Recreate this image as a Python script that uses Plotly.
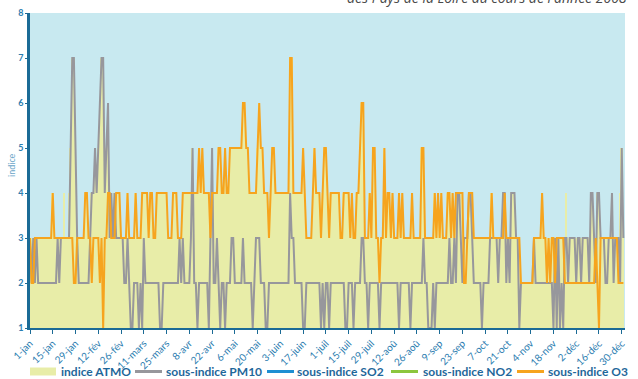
import pandas as pd
import plotly.graph_objects as go

# Daily dates for 2008 (leap year: 366 days)
dates = pd.date_range("2008-01-01", "2008-12-31", freq="D")

# Daily ATMO index
indice_atmo = [
    3, 3, 3, 3, 3, 3, 3, 3, 3, 3,
    3, 3, 3, 3, 4, 3, 3, 3, 3, 3,
    3, 4, 3, 3, 4, 5, 7, 7, 5, 3,
    3, 3, 3, 3, 4, 4, 3, 3, 4, 4,
    5, 4, 5, 6, 7, 7, 4, 5, 6, 4,
    4, 3, 4, 4, 4, 4, 3, 3, 3, 3,
    4, 3, 3, 3, 3, 4, 3, 3, 3, 4,
    4, 4, 4, 3, 4, 4, 3, 3, 4, 4,
    4, 4, 4, 4, 4, 3, 3, 3, 4, 4,
    4, 3, 3, 3, 4, 4, 4, 4, 4, 4,
    5, 4, 4, 4, 5, 4, 5, 4, 4, 4,
    4, 3, 5, 4, 4, 4, 5, 5, 4, 4,
    5, 4, 4, 5, 5, 5, 5, 5, 5, 5,
    5, 6, 6, 5, 5, 4, 4, 4, 4, 4,
    5, 6, 5, 5, 4, 4, 4, 3, 4, 5,
    5, 4, 4, 4, 4, 4, 4, 4, 4, 4,
    7, 7, 4, 4, 4, 4, 4, 4, 5, 4,
    3, 3, 3, 3, 4, 5, 4, 4, 4, 3,
    4, 5, 5, 4, 3, 4, 4, 4, 4, 4,
    4, 3, 3, 4, 4, 4, 4, 3, 4, 3,
    3, 4, 4, 5, 6, 6, 3, 3, 3, 4,
    3, 5, 5, 3, 3, 3, 3, 3, 5, 3,
    4, 4, 3, 4, 3, 3, 3, 4, 3, 4,
    3, 3, 3, 3, 3, 4, 3, 3, 3, 3,
    3, 5, 5, 3, 3, 3, 3, 3, 3, 4,
    3, 4, 3, 4, 3, 3, 3, 4, 4, 3,
    4, 3, 4, 4, 4, 4, 4, 3, 3, 3,
    4, 4, 4, 3, 3, 3, 3, 3, 3, 3,
    3, 3, 3, 3, 4, 3, 3, 3, 3, 3,
    3, 4, 4, 3, 3, 3, 4, 4, 4, 3,
    3, 3, 2, 2, 2, 2, 2, 2, 2, 2,
    3, 3, 3, 3, 3, 4, 3, 3, 3, 3,
    3, 3, 3, 3, 3, 3, 3, 3, 3, 3,
    4, 3, 3, 3, 3, 3, 3, 3, 3, 3,
    3, 3, 3, 3, 3, 4, 4, 3, 3, 4,
    4, 3, 3, 3, 3, 3, 3, 3, 4, 3,
    3, 3, 3, 4, 5, 3,
]

# Daily PM10 sub-index
sous_indice_pm10 = [
    3, 2, 3, 2, 3, 2, 2, 2, 2, 2,
    2, 2, 2, 2, 2, 2, 2, 3, 2, 3,
    3, 3, 3, 3, 3, 5, 7, 7, 5, 3,
    2, 2, 2, 2, 2, 2, 2, 3, 4, 4,
    5, 4, 5, 6, 7, 7, 4, 5, 6, 3,
    4, 3, 4, 3, 3, 3, 3, 3, 2, 2,
    3, 2, 1, 1, 2, 2, 2, 1, 2, 1,
    3, 2, 2, 2, 2, 2, 2, 2, 2, 2,
    1, 1, 2, 2, 2, 2, 2, 2, 2, 2,
    2, 2, 3, 2, 3, 2, 2, 2, 2, 3,
    5, 2, 2, 1, 2, 2, 2, 2, 2, 2,
    1, 3, 5, 2, 2, 3, 2, 1, 2, 2,
    1, 2, 2, 2, 3, 3, 2, 2, 2, 2,
    2, 3, 2, 2, 2, 2, 2, 1, 2, 3,
    3, 3, 2, 2, 2, 1, 1, 2, 2, 2,
    2, 2, 2, 2, 2, 2, 2, 2, 2, 2,
    4, 3, 3, 2, 2, 2, 2, 2, 1, 1,
    2, 2, 2, 2, 2, 2, 2, 2, 2, 1,
    2, 1, 2, 2, 1, 2, 2, 2, 2, 2,
    2, 2, 2, 2, 1, 1, 2, 2, 2, 1,
    2, 2, 2, 2, 3, 3, 2, 2, 1, 2,
    2, 2, 2, 2, 2, 1, 2, 2, 2, 2,
    2, 2, 2, 2, 2, 2, 2, 1, 2, 2,
    2, 2, 2, 2, 1, 2, 2, 2, 2, 2,
    2, 2, 3, 2, 2, 1, 1, 1, 2, 1,
    2, 2, 2, 2, 2, 2, 2, 2, 3, 2,
    2, 3, 2, 4, 4, 3, 2, 3, 3, 3,
    4, 4, 3, 2, 2, 2, 2, 2, 1, 2,
    2, 2, 2, 3, 3, 3, 3, 3, 2, 3,
    3, 4, 4, 2, 3, 2, 4, 4, 4, 3,
    3, 1, 2, 2, 2, 2, 2, 2, 2, 2,
    3, 2, 2, 2, 2, 2, 2, 2, 2, 2,
    2, 2, 1, 3, 1, 3, 1, 2, 1, 3,
    3, 2, 3, 3, 3, 3, 2, 3, 3, 2,
    3, 3, 3, 3, 2, 4, 4, 3, 2, 4,
    4, 3, 3, 3, 2, 2, 3, 3, 4, 2,
    3, 3, 3, 2, 5, 3,
]

# Daily O3 sub-index
sous_indice_o3 = [
    3, 2, 2, 3, 3, 3, 3, 3, 3, 3,
    3, 3, 3, 3, 4, 3, 3, 3, 3, 3,
    3, 3, 3, 3, 3, 3, 3, 2, 2, 3,
    3, 3, 3, 3, 4, 4, 3, 3, 2, 3,
    3, 3, 3, 2, 3, 1, 3, 3, 4, 4,
    3, 3, 3, 4, 4, 4, 3, 3, 3, 3,
    4, 3, 3, 3, 3, 4, 3, 3, 3, 4,
    4, 4, 4, 3, 4, 4, 3, 3, 4, 4,
    4, 4, 4, 4, 4, 3, 3, 3, 4, 4,
    4, 3, 3, 3, 4, 4, 4, 4, 4, 4,
    4, 4, 4, 4, 5, 4, 5, 4, 4, 4,
    4, 3, 4, 4, 4, 4, 5, 5, 4, 4,
    5, 4, 4, 5, 5, 5, 5, 5, 5, 5,
    5, 6, 6, 5, 5, 4, 4, 4, 4, 4,
    5, 6, 5, 5, 4, 4, 4, 3, 4, 5,
    5, 4, 4, 4, 4, 4, 4, 4, 4, 4,
    7, 7, 4, 4, 4, 4, 4, 4, 5, 4,
    3, 3, 3, 3, 4, 5, 4, 4, 4, 3,
    4, 5, 5, 4, 3, 4, 4, 4, 4, 4,
    4, 3, 3, 4, 4, 4, 4, 3, 4, 3,
    3, 4, 4, 5, 6, 6, 3, 3, 3, 4,
    3, 5, 5, 3, 3, 2, 3, 3, 5, 3,
    4, 4, 3, 4, 3, 3, 3, 4, 3, 4,
    3, 3, 3, 3, 3, 4, 3, 3, 3, 3,
    3, 5, 5, 3, 3, 3, 3, 3, 3, 4,
    3, 4, 3, 4, 3, 3, 3, 4, 4, 3,
    4, 3, 4, 4, 4, 4, 4, 2, 2, 3,
    4, 4, 4, 3, 3, 3, 3, 3, 3, 3,
    3, 3, 3, 3, 4, 3, 3, 3, 3, 3,
    3, 3, 4, 3, 3, 3, 3, 3, 3, 3,
    3, 3, 2, 2, 2, 2, 2, 2, 2, 2,
    3, 3, 3, 3, 3, 4, 3, 3, 2, 3,
    2, 3, 3, 2, 3, 3, 3, 3, 3, 2,
    2, 2, 2, 2, 2, 2, 2, 2, 2, 2,
    2, 2, 2, 2, 2, 2, 2, 2, 3, 2,
    1, 3, 3, 3, 3, 3, 3, 3, 3, 3,
    3, 3, 2, 2, 2, 2,
]

# Axis tick labels, one every 14 days
tick_labels = [
    "1-jan", "15-jan", "29-jan", "12-fév", "26-fév", "11-mars", "25-mars",
    "8-avr", "22-avr", "6-mai", "20-mai", "3-juin", "17-juin", "1-juil",
    "15-juil", "29-juil", "12-aoû", "26-aoû", "9-sep", "23-sep", "7-oct",
    "21-oct", "4-nov", "18-nov", "2-déc", "16-déc", "30-déc",
]
tick_dates = dates[::14]

# Legend entries
legend_names = ["indice ATMO", "sous-indice PM10", "sous-indice SO2",
                "sous-indice NO2", "sous-indice O3"]
legend_colors = ["#e8eda8", "#97979c", "#1e8fd2", "#8cc63e", "#f6a41e"]

C_ATMO, C_PM10, C_O3 = legend_colors[0], legend_colors[1], legend_colors[4]
BLUE_TXT = "#1f679a"
TICK_TXT = "#2b7db0"

W, H = 638, 379
ML, MR, MT, MB = 30, 13, 13, 51
PW, PH = W - ML - MR, H - MT - MB


def px_x(px):
    return (px - ML) / PW


def px_y(py):
    return (H - MB - py) / PH


fig = go.Figure()
fig.add_trace(go.Bar(
    x=dates, y=indice_atmo, name=legend_names[0],
    marker=dict(color=C_ATMO, line=dict(width=0)),
    showlegend=False, hoverinfo="skip",
))
fig.add_trace(go.Scatter(
    x=dates, y=sous_indice_pm10, name=legend_names[1], mode="lines",
    line=dict(color=C_PM10, width=2), showlegend=False,
))
fig.add_trace(go.Scatter(
    x=dates, y=sous_indice_o3, name=legend_names[4], mode="lines",
    line=dict(color=C_O3, width=2), showlegend=False,
))

# Hand-placed legend row under the axis
shapes = []
annotations = []
swatch_x = [30, 135, 267, 391, 517]
text_x = [59, 164, 295, 421, 546]
leg_y = 371.5
for i, (name, col) in enumerate(zip(legend_names, legend_colors)):
    x0 = swatch_x[i]
    if i == 0:
        shapes.append(dict(type="rect", xref="paper", yref="paper",
                           x0=px_x(x0), x1=px_x(x0 + 26),
                           y0=px_y(leg_y + 4), y1=px_y(leg_y - 4),
                           fillcolor=col, line=dict(width=0)))
    else:
        shapes.append(dict(type="line", xref="paper", yref="paper",
                           x0=px_x(x0), x1=px_x(x0 + 27),
                           y0=px_y(leg_y), y1=px_y(leg_y),
                           line=dict(color=col, width=3)))
    annotations.append(dict(
        text=name, xref="paper", yref="paper", x=px_x(text_x[i]),
        y=px_y(leg_y), xanchor="left", yanchor="middle", showarrow=False,
        font=dict(family="Lato", size=12, color=BLUE_TXT, weight="bold"),
    ))

# Y axis title
annotations.append(dict(
    text="indice", xref="paper", yref="paper", x=px_x(12), y=px_y(165),
    xanchor="center", yanchor="middle", textangle=-90, showarrow=False,
    font=dict(family="Lato", size=9, color="#6aa5c8"),
))
# Title line at the top right (its upper part runs off the page top)
annotations.append(dict(
    text="des Pays de la Loire au cours de l'année 2008",
    xref="paper", yref="paper", x=px_x(629), y=px_y(9),
    xanchor="right", yanchor="bottom", showarrow=False,
    font=dict(family="Open Sans", size=14, color="#4a4a4a", style="italic"),
))

fig.update_layout(
    width=W, height=H,
    margin=dict(l=ML, r=MR, t=MT, b=MB, pad=0, autoexpand=False),
    paper_bgcolor="white", plot_bgcolor="#c8e9f0",
    bargap=0, showlegend=False,
    shapes=shapes, annotations=annotations,
    font=dict(family="Lato"),
)
fig.update_xaxes(
    range=["2008-01-01", "2009-01-01"], automargin=False,
    tickvals=tick_dates, ticktext=tick_labels, tickangle=-45,
    tickfont=dict(family="Lato", size=10, color=TICK_TXT),
    ticks="outside", ticklen=4, tickcolor="#1b6b96",
    showline=True, linecolor="#1b6b96", linewidth=1.5,
    showgrid=False, zeroline=False,
)
fig.update_yaxes(
    range=[1, 8], tickvals=list(range(1, 9)), automargin=False,
    tickfont=dict(family="Lato", size=9, color=TICK_TXT, weight="bold"),
    ticks="outside", ticklen=2, tickcolor="#1b6b96",
    showline=True, linecolor="#1b6b96", linewidth=2.5,
    showgrid=False, zeroline=False,
)

fig.write_html("out.html")
